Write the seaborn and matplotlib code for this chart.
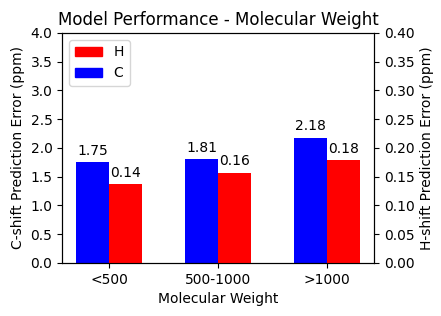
"""Grouped bar chart: prediction error by molecular weight (C and H on twin axes)."""

import matplotlib.pyplot as plt
import matplotlib.patches as mpatches
import pandas as pd
import seaborn as sns

CATEGORIES = ["<500", "500-1000", ">1000"]
C_ERROR = [1.75, 1.81, 2.18]
H_ERROR = [0.137, 0.157, 0.179]

PALETTE = {"C": "blue", "H": "red"}


def main() -> None:
    df_c = pd.DataFrame({"mw": CATEGORIES, "err": C_ERROR, "atom": "C"})
    df_h = pd.DataFrame({"mw": CATEGORIES, "err": H_ERROR, "atom": "H"})

    fig, ax1 = plt.subplots(figsize=(4.41, 3.16), dpi=100)
    ax2 = ax1.twinx()

    common = dict(x="mw", y="err", hue="atom", hue_order=["C", "H"], order=CATEGORIES,
                  palette=PALETTE, saturation=1, width=0.6, dodge=True, gap=0,
                  errorbar=None, legend=False)
    sns.barplot(data=df_c, ax=ax1, **common)
    sns.barplot(data=df_h, ax=ax2, **common)

    for ax in (ax1, ax2):
        for cont in ax.containers:
            if len(cont):
                ax.bar_label(cont, fmt="%.2f", padding=3, fontsize=10)

    ax1.set_ylim(0, 4.0)
    ax2.set_ylim(0, 0.40)
    ax1.set_yticks([i * 0.5 for i in range(9)])
    ax2.set_yticks([i * 0.05 for i in range(9)])
    ax2.set_yticklabels([f"{i * 0.05:.2f}" for i in range(9)])
    ax1.set_xlim(-0.43, 2.43)

    ax1.set_xlabel("Molecular Weight")
    ax1.set_ylabel("C-shift Prediction Error (ppm)")
    ax2.set_ylabel("H-shift Prediction Error (ppm)")
    ax1.set_title("Model Performance - Molecular Weight")

    handles = [mpatches.Patch(color="red", label="H"), mpatches.Patch(color="blue", label="C")]
    ax2.legend(handles=handles, loc="upper left")

    plt.subplots_adjust(left=0.141, right=0.848, top=0.896, bottom=0.168)
    plt.savefig("out.png", dpi=100)
    plt.close()


if __name__ == "__main__":
    main()
